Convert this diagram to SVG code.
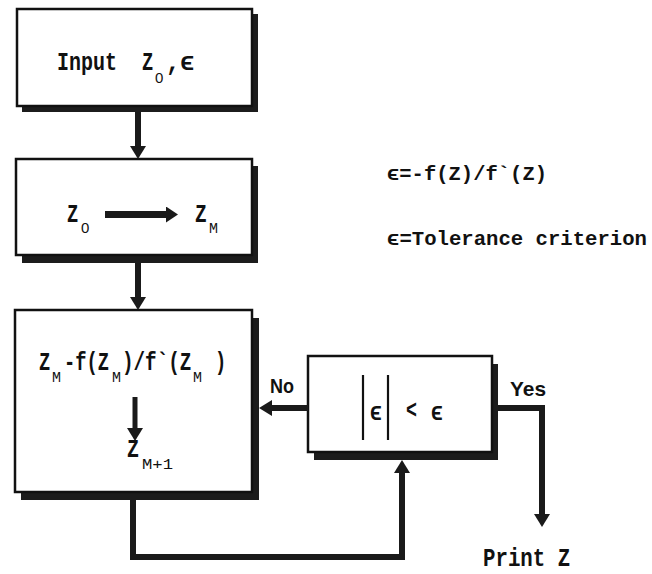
<svg xmlns="http://www.w3.org/2000/svg" width="652" height="574" viewBox="0 0 652 574">
<style>
.box{fill:#fff;stroke:#111;stroke-width:2.5}
.sh{fill:#1c1c1c}
.t{font-family:"Liberation Mono","DejaVu Sans Mono",monospace;font-weight:bold;font-size:25px;fill:#111}
.s{font-family:"Liberation Mono","DejaVu Sans Mono",monospace;font-size:15px;fill:#111}
.z{font-family:"Liberation Sans",Arial,sans-serif;font-size:15px;fill:#111}
.r{font-family:"Liberation Mono","DejaVu Sans Mono",monospace;font-weight:bold;font-size:20px;fill:#111}
.l{font-family:"Liberation Sans",Arial,sans-serif;font-weight:bold;font-size:21px;fill:#111}
.c{fill:none;stroke:#1a1a1a;stroke-width:6}
</style>
<defs>
<marker id="ah" markerUnits="userSpaceOnUse" markerWidth="14" markerHeight="16" refX="0" refY="8" orient="auto">
<path d="M0,0 L13,8 L0,16 z" fill="#1a1a1a"/>
</marker>
<marker id="ahb" markerUnits="userSpaceOnUse" markerWidth="14" markerHeight="16" refX="0" refY="8" orient="auto">
<path d="M0,0 L12,8 L0,16 z" fill="#1a1a1a"/>
</marker>
</defs>

<g id="input">
<rect class="sh" x="22" y="14" width="236" height="98"/>
<rect class="box" x="17" y="9" width="235" height="97"/>
<text class="t" transform="translate(57,70) scale(0.8,1)">Input</text>
<text class="t" transform="translate(142,70) scale(0.75,1)">Z</text>
<text class="z" x="155" y="83">0</text>
<text class="t" transform="translate(166,70) scale(0.95,1)">,ϵ</text>
</g>

<g id="init">
<rect class="sh" x="22" y="166" width="236" height="97"/>
<rect class="box" x="16" y="159" width="236" height="96"/>
<text class="t" transform="translate(67,222) scale(0.75,1)">Z</text>
<text class="z" x="81" y="233">0</text>
<text class="t" transform="translate(195,222) scale(0.78,1)">Z</text>
<text class="s" x="209" y="233">M</text>
<line x1="105" y1="214.5" x2="166" y2="214.5" stroke="#1a1a1a" stroke-width="7" marker-end="url(#ahb)"/>
</g>

<g id="iterate">
<rect class="sh" x="21" y="318" width="238" height="182"/>
<rect class="box" x="15" y="310" width="237" height="182"/>
<text class="t" transform="translate(39,370) scale(0.75,1)">Z</text>
<text class="s" x="52" y="382">M</text>
<text class="t" transform="translate(64,370) scale(0.75,1)">-f(Z</text>
<text class="s" x="112" y="382">M</text>
<text class="t" transform="translate(122,370) scale(0.77,1)">)/f`(Z</text>
<text class="s" x="193" y="382">M</text>
<text class="t" transform="translate(215,370) scale(0.75,1)">)</text>
<line x1="135" y1="397" x2="135" y2="428" stroke="#1a1a1a" stroke-width="5" marker-end="url(#ah)"/>
<text class="t" transform="translate(127,457) scale(0.8,1)">Z</text>
<text class="s" x="142" y="469" textLength="31" lengthAdjust="spacingAndGlyphs">M+1</text>
</g>

<g id="test">
<rect class="sh" x="314" y="364" width="184" height="96"/>
<rect class="box" x="308" y="356" width="184" height="96"/>
<line x1="363" y1="375" x2="363" y2="440" stroke="#111" stroke-width="2.2"/>
<line x1="388" y1="375" x2="388" y2="440" stroke="#111" stroke-width="2.2"/>
<text class="t" x="370" y="420" textLength="12" lengthAdjust="spacingAndGlyphs">ϵ</text>
<text class="t" x="406" y="418" textLength="11" lengthAdjust="spacingAndGlyphs">&lt;</text>
<text class="t" x="431" y="420" textLength="12" lengthAdjust="spacingAndGlyphs">ϵ</text>
</g>

<g id="notes">
<text class="r" x="387" y="180" textLength="160" lengthAdjust="spacingAndGlyphs">ϵ=-f(Z)/f`(Z)</text>
<text class="r" x="387" y="245" textLength="260" lengthAdjust="spacingAndGlyphs">ϵ=Tolerance criterion</text>
</g>

<g id="print">
<text class="t" transform="translate(483,566) scale(0.83,1)">Print Z</text>
</g>

<g id="connectors">
<line class="c" x1="138" y1="112" x2="138" y2="146" marker-end="url(#ah)"/>
<line class="c" x1="138" y1="263" x2="138" y2="297" marker-end="url(#ah)"/>
<line class="c" x1="308" y1="408" x2="272" y2="408" stroke-width="7" marker-end="url(#ah)"/>
<polyline class="c" points="498,408 542,408 542,514" stroke-width="7" marker-end="url(#ah)"/>
<polyline class="c" points="133,500 133,557 402,557 402,473" marker-end="url(#ah)"/>
<text class="l" x="270" y="393" textLength="24" lengthAdjust="spacingAndGlyphs">No</text>
<text class="l" x="510" y="396" textLength="36" lengthAdjust="spacingAndGlyphs">Yes</text>
</g>
</svg>
